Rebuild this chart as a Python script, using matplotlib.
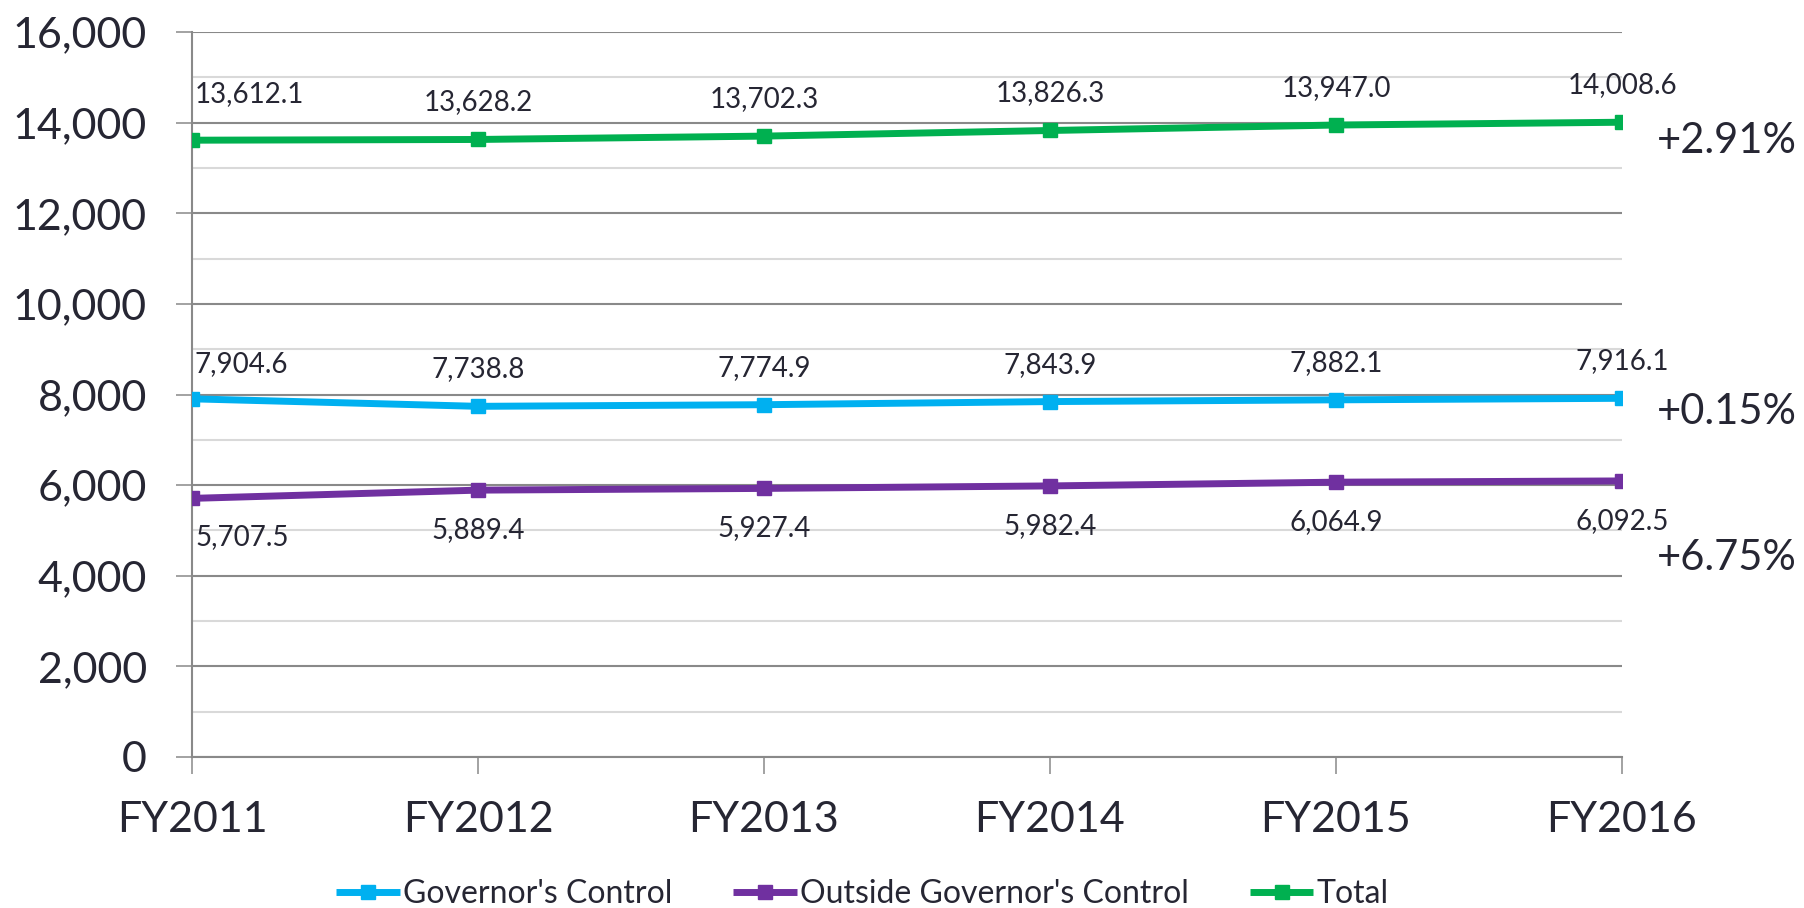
import numpy as np
import matplotlib
matplotlib.use('Agg')
import matplotlib.pyplot as plt
from matplotlib.ticker import FuncFormatter, MultipleLocator

plt.rcParams['font.family'] = ['Lato', 'DejaVu Sans']

years = ['FY2011', 'FY2012', 'FY2013', 'FY2014', 'FY2015', 'FY2016']
governor = [7904.6, 7738.8, 7774.9, 7843.9, 7882.1, 7916.1]
outside = [5707.5, 5889.4, 5927.4, 5982.4, 6064.9, 6092.5]
total = [13612.1, 13628.2, 13702.3, 13826.3, 13947.0, 14008.6]

text_col = '#262633'
blue = '#00B0F0'
purple = '#7030A0'
green = '#00B050'

fig = plt.figure(figsize=(18.04, 9.08), dpi=100)
ax = fig.add_axes([192/1804, 1 - 757/908, (1622 - 192)/1804, (757 - 32)/908])

x = np.arange(len(years))
series = [
    (governor, blue, "Governor's Control", 37, 35, -14),
    (outside, purple, "Outside Governor's Control", -40, -39, -77),
    (total, green, 'Total', 37, 46, -19),
]
for vals, col, lab, dy, dy0, pct_off in series:
    ax.plot(x, vals, color=col, lw=5, marker='s', ms=10, label=lab, zorder=3,
            solid_capstyle='butt')
    for i, v in enumerate(vals):
        if i == 0:
            # first label sits against the axis, like excel does it
            ax.annotate(f'{v:,.1f}', (x[i], v), xytext=(3, dy0), textcoords='offset pixels',
                        ha='left', va='center', fontsize=20, color=text_col)
        else:
            ax.annotate(f'{v:,.1f}', (x[i], v), xytext=(0, dy), textcoords='offset pixels',
                        ha='center', va='center', fontsize=20, color=text_col)
    pct = (vals[-1] - vals[0]) / vals[0] * 100
    ax.annotate(f'+{pct:.2f}%', (x[-1], vals[-1]), xytext=(35, pct_off), textcoords='offset pixels',
                ha='left', va='center', fontsize=30, color=text_col, annotation_clip=False)

ax.set_xlim(0, 5)
ax.set_ylim(0, 16000)
ax.yaxis.set_major_locator(MultipleLocator(2000))
ax.yaxis.set_minor_locator(MultipleLocator(1000))
ax.yaxis.set_major_formatter(FuncFormatter(lambda v, p: f'{v:,.0f}'))
ax.set_xticks(x)
ax.set_xticklabels(years)

ax.grid(axis='y', which='major', color='#898989', lw=1.5, zorder=0)
ax.grid(axis='y', which='minor', color='#D9D9D9', lw=1.5, zorder=0)
ax.set_axisbelow(True)
for s in ['top', 'right']:
    ax.spines[s].set_visible(False)
for s in ['left', 'bottom']:
    ax.spines[s].set_color('#898989')
    ax.spines[s].set_linewidth(1.5)

ax.tick_params(axis='y', which='major', length=11.5, width=1.1, color='#898989',
               labelsize=31, labelcolor=text_col, pad=21)
ax.tick_params(axis='y', which='minor', length=0)
ax.tick_params(axis='x', length=12, width=1.1, color='#898989',
               labelsize=31, labelcolor=text_col, pad=20)

fig.legend(loc='center', bbox_to_anchor=(0.478, 0.015), ncol=3, frameon=False,
           fontsize=23, handlelength=2.0, handletextpad=0.1, columnspacing=1.9,
           labelcolor=text_col)

fig.savefig('out.png', dpi=100)
